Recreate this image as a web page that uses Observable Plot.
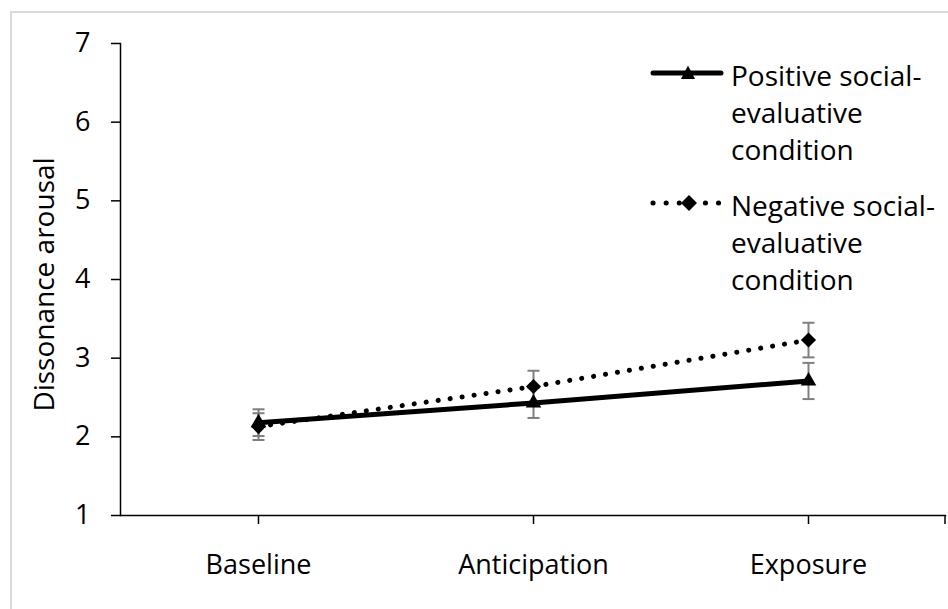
<!DOCTYPE html>
<html>
<head>
<meta charset="utf-8">
<script src="https://cdn.jsdelivr.net/npm/d3@7"></script>
<script src="https://cdn.jsdelivr.net/npm/@observablehq/plot@0.6"></script>
<style>
  html, body { margin: 0; padding: 0; background: #fff; }
  #wrap { position: relative; width: 948px; height: 609px; overflow: hidden; font-family: "Open Sans", sans-serif; }
  #border { position: absolute; left: 10px; top: 11px; width: 960px; height: 620px; border: 2px solid #d9d9d9; box-sizing: border-box; }
  #chart { position: absolute; left: 0; top: 0; }
  #legend { position: absolute; left: 650px; top: 57px; font-size: 28px; line-height: 37px; color: #000; }
  .item { display: flex; align-items: flex-start; margin-bottom: 19px; }
  .item svg { flex: none; margin-top: 0px; }
  .item span { margin-left: 7px; }
</style>
</head>
<body>
<div id="wrap">
  <div id="border"></div>
  <div id="chart"></div>
  <div id="legend"></div>
</div>
<script>
const phases = ["Baseline", "Anticipation", "Exposure"];
const seriesNames = ["Positive social-evaluative condition", "Negative social-evaluative condition"];
const positiveMean = [2.18, 2.43, 2.71];
const positiveErr = [0.17, 0.19, 0.23];
const negativeMean = [2.13, 2.64, 3.23];
const negativeErr = [0.17, 0.20, 0.22];
const yTicks = [1, 2, 3, 4, 5, 6, 7];
const yLabel = "Dissonance arousal";

const pos = phases.map((p, i) => ({phase: p, v: positiveMean[i], e: positiveErr[i]}));
const neg = phases.map((p, i) => ({phase: p, v: negativeMean[i], e: negativeErr[i]}));

const capSymbol = {draw(ctx, size) { const r = 6; ctx.moveTo(-r, 0); ctx.lineTo(r, 0); }};
const gray = "#7f7f7f";
const fontSize = 27;

const chart = Plot.plot({
  width: 948,
  height: 609,
  marginLeft: 120,
  marginRight: 3,
  marginTop: 43,
  marginBottom: 94,
  style: {fontFamily: "Open Sans, sans-serif", fontSize: fontSize + "px", background: "transparent", color: "#000"},
  x: {type: "point", domain: phases, padding: 0.5, label: null},
  y: {domain: [1, 7], label: null},
  marks: [
    Plot.axisY({ticks: yTicks, tickSize: 9, tickPadding: 21, fontSize: fontSize, tickFormat: d3.format("d"), label: null, strokeWidth: 1.5}),
    Plot.axisX({tickSize: 9, tickPadding: 30, fontSize: fontSize, label: null, strokeWidth: 1.5}),
    Plot.frame({anchor: "left", strokeWidth: 1.5}),
    Plot.frame({anchor: "bottom", strokeWidth: 1.5}),
    Plot.text([yLabel], {frameAnchor: "left", textAnchor: "middle", dx: -75, dy: 5, rotate: -90, fontSize: 28, text: d => d}),
    // error bars
    Plot.ruleX(pos, {x: "phase", y1: d => d.v - d.e, y2: d => d.v + d.e, stroke: gray, strokeWidth: 2}),
    Plot.ruleX(neg, {x: "phase", y1: d => d.v - d.e, y2: d => d.v + d.e, stroke: gray, strokeWidth: 2}),
    Plot.dot(pos, {x: "phase", y: d => d.v - d.e, symbol: capSymbol, stroke: gray, strokeWidth: 2, fill: "none"}),
    Plot.dot(pos, {x: "phase", y: d => d.v + d.e, symbol: capSymbol, stroke: gray, strokeWidth: 2, fill: "none"}),
    Plot.dot(neg, {x: "phase", y: d => d.v - d.e, symbol: capSymbol, stroke: gray, strokeWidth: 2, fill: "none"}),
    Plot.dot(neg, {x: "phase", y: d => d.v + d.e, symbol: capSymbol, stroke: gray, strokeWidth: 2, fill: "none"}),
    // lines
    Plot.line(neg, {x: "phase", y: "v", stroke: "#000", strokeWidth: 5, strokeDasharray: "0.1 12", strokeLinecap: "round"}),
    Plot.line(pos, {x: "phase", y: "v", stroke: "#000", strokeWidth: 5}),
    Plot.dot(neg, {x: "phase", y: "v", symbol: "diamond2", r: 6.8, fill: "#000", stroke: "none"}),
    Plot.dot(pos, {x: "phase", y: "v", symbol: "triangle", r: 5.8, fill: "#000", stroke: "none"})
  ]
});
document.getElementById("chart").appendChild(chart);

// closing tick at the right end of the category axis (Excel style)
const xr = chart.scale("x").range;
const yr = chart.scale("y").range;
d3.select(chart).append("line")
  .attr("x1", xr[1]).attr("x2", xr[1])
  .attr("y1", yr[0]).attr("y2", yr[0] + 9)
  .attr("stroke", "#000").attr("stroke-width", 1.5);

// Legend
const legend = document.getElementById("legend");
const samples = [
  `<svg width="74" height="32"><line x1="3" y1="16" x2="71" y2="16" stroke="#000" stroke-width="5" stroke-linecap="round"/><path d="M38,8.5 L45,22 L31,22 Z" fill="#000"/></svg>`,
  `<svg width="74" height="32"><line x1="3" y1="16" x2="70" y2="16" stroke="#000" stroke-width="5" stroke-dasharray="0.1 13" stroke-linecap="round"/><path d="M39,8 L47,16 L39,24 L31,16 Z" fill="#000"/></svg>`
];
const lines = [["Positive social-", "evaluative", "condition"], ["Negative social-", "evaluative", "condition"]];
lines.forEach((ls, i) => {
  const div = document.createElement("div");
  div.className = "item";
  div.innerHTML = samples[i] + `<span>${ls.join("<br>")}</span>`;
  legend.appendChild(div);
});
</script>
</body>
</html>
